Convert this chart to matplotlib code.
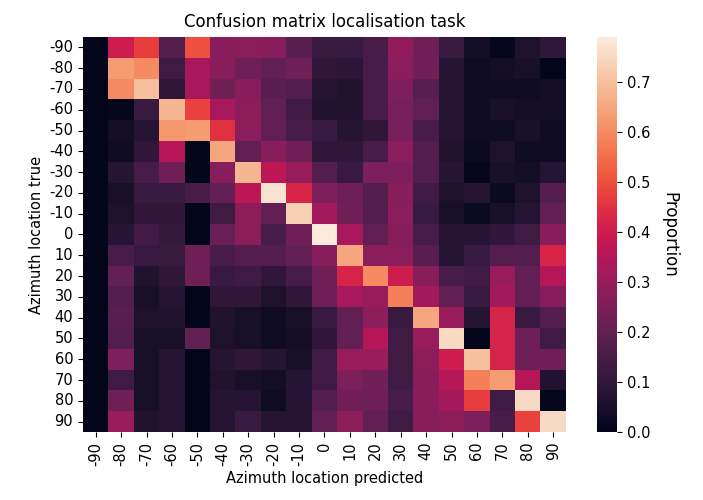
"""Confusion matrix heatmap for the azimuth localisation task (seaborn rocket)."""

import matplotlib

matplotlib.use("Agg")
import matplotlib.pyplot as plt
import numpy as np
import seaborn as sns

# azimuth bins, degrees
azimuths = [-90, -80, -70, -60, -50, -40, -30, -20, -10, 0, 10, 20, 30, 40, 50, 60, 70, 80, 90]

# rows = true location, columns = predicted location (proportion of responses)
row_m90 = [0.00, 0.40, 0.47, 0.17, 0.50, 0.27, 0.28, 0.27, 0.18, 0.12, 0.12, 0.15, 0.29, 0.23, 0.12, 0.04, 0.01, 0.06, 0.10]
row_m80 = [0.00, 0.63, 0.60, 0.13, 0.33, 0.27, 0.22, 0.20, 0.22, 0.10, 0.09, 0.15, 0.28, 0.23, 0.08, 0.03, 0.04, 0.05, 0.00]
row_m70 = [0.00, 0.60, 0.70, 0.10, 0.33, 0.23, 0.27, 0.18, 0.17, 0.08, 0.07, 0.15, 0.25, 0.18, 0.08, 0.03, 0.03, 0.03, 0.04]
row_m60 = [0.00, 0.01, 0.12, 0.68, 0.48, 0.33, 0.28, 0.20, 0.13, 0.07, 0.07, 0.15, 0.24, 0.20, 0.08, 0.03, 0.05, 0.04, 0.04]
row_m50 = [0.00, 0.04, 0.08, 0.62, 0.63, 0.45, 0.28, 0.20, 0.15, 0.12, 0.08, 0.10, 0.24, 0.15, 0.08, 0.03, 0.03, 0.05, 0.03]
row_m40 = [0.00, 0.03, 0.10, 0.35, 0.00, 0.65, 0.20, 0.27, 0.23, 0.10, 0.10, 0.15, 0.28, 0.17, 0.07, 0.02, 0.06, 0.03, 0.03]
row_m30 = [0.00, 0.08, 0.15, 0.22, 0.00, 0.27, 0.68, 0.37, 0.30, 0.17, 0.12, 0.25, 0.25, 0.17, 0.08, 0.01, 0.05, 0.04, 0.08]
row_m20 = [0.00, 0.05, 0.12, 0.12, 0.15, 0.20, 0.37, 0.77, 0.42, 0.25, 0.22, 0.17, 0.27, 0.13, 0.06, 0.08, 0.02, 0.06, 0.17]
row_m10 = [0.00, 0.06, 0.10, 0.10, 0.00, 0.13, 0.28, 0.20, 0.73, 0.32, 0.23, 0.17, 0.28, 0.12, 0.05, 0.02, 0.05, 0.08, 0.20]
row_0 = [0.00, 0.08, 0.14, 0.11, 0.00, 0.21, 0.28, 0.15, 0.22, 0.79, 0.33, 0.20, 0.27, 0.15, 0.08, 0.08, 0.10, 0.13, 0.27]
row_10 = [0.00, 0.15, 0.12, 0.12, 0.22, 0.15, 0.17, 0.17, 0.20, 0.27, 0.65, 0.28, 0.28, 0.18, 0.08, 0.12, 0.17, 0.17, 0.42]
row_20 = [0.00, 0.20, 0.07, 0.10, 0.22, 0.12, 0.13, 0.10, 0.15, 0.22, 0.42, 0.60, 0.40, 0.27, 0.15, 0.13, 0.30, 0.20, 0.35]
row_30 = [0.00, 0.17, 0.05, 0.08, 0.00, 0.10, 0.10, 0.06, 0.10, 0.22, 0.33, 0.30, 0.58, 0.32, 0.20, 0.12, 0.32, 0.20, 0.27]
row_40 = [0.00, 0.18, 0.06, 0.07, 0.00, 0.07, 0.05, 0.03, 0.05, 0.12, 0.20, 0.28, 0.12, 0.65, 0.30, 0.08, 0.42, 0.12, 0.17]
row_50 = [0.00, 0.17, 0.05, 0.05, 0.20, 0.06, 0.05, 0.03, 0.04, 0.10, 0.20, 0.35, 0.13, 0.30, 0.75, 0.00, 0.42, 0.22, 0.13]
row_60 = [0.00, 0.25, 0.05, 0.08, 0.00, 0.08, 0.10, 0.08, 0.05, 0.13, 0.30, 0.30, 0.13, 0.28, 0.40, 0.70, 0.42, 0.22, 0.22]
row_70 = [0.00, 0.13, 0.05, 0.08, 0.00, 0.07, 0.05, 0.04, 0.08, 0.13, 0.25, 0.23, 0.13, 0.27, 0.35, 0.58, 0.63, 0.35, 0.07]
row_80 = [0.00, 0.22, 0.05, 0.08, 0.00, 0.08, 0.08, 0.03, 0.08, 0.17, 0.23, 0.22, 0.15, 0.27, 0.32, 0.47, 0.13, 0.75, 0.01]
row_90 = [0.00, 0.30, 0.07, 0.08, 0.00, 0.08, 0.12, 0.08, 0.08, 0.20, 0.28, 0.20, 0.13, 0.27, 0.28, 0.25, 0.15, 0.48, 0.75]

conf = np.array([
    row_m90, row_m80, row_m70, row_m60, row_m50, row_m40, row_m30, row_m20, row_m10, row_0,
    row_10, row_20, row_30, row_40, row_50, row_60, row_70, row_80, row_90,
])

fig = plt.figure(figsize=(7.03, 5.0), dpi=100)
ax = fig.add_axes([0.118, 0.136, 0.687, 0.790])
cax = fig.add_axes([0.849, 0.136, 0.029, 0.790])

sns.heatmap(conf, ax=ax, cbar_ax=cax, cmap="rocket", vmin=0,
            xticklabels=azimuths, yticklabels=azimuths)
ax.set_title("Confusion matrix localisation task", fontsize=12, pad=7)
ax.set_xlabel("Azimuth location predicted", fontsize=10.5)
ax.set_ylabel("Azimuth location true", fontsize=10.5)
ax.tick_params(axis="both", labelsize=10.5)
plt.setp(ax.get_xticklabels(), rotation=90)
plt.setp(ax.get_yticklabels(), rotation=0)

cax.tick_params(labelsize=10.5)
cax.set_ylabel("Proportion", rotation=270, fontsize=12, labelpad=20)

fig.savefig("out.png", dpi=100)
